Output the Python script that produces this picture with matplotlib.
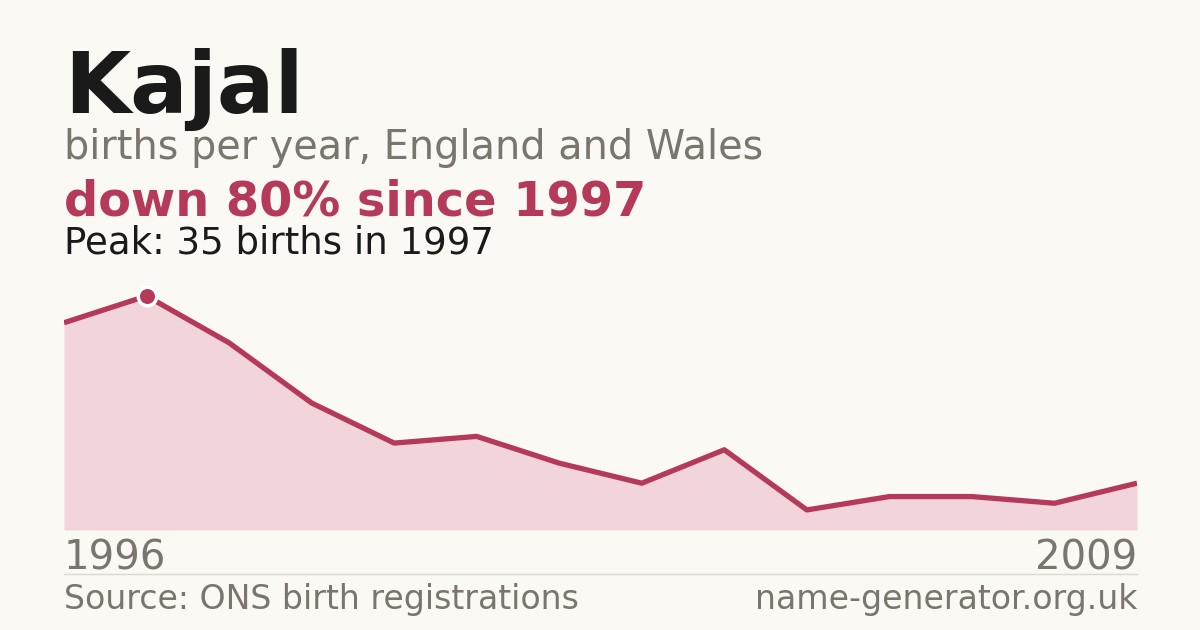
import matplotlib
matplotlib.use("Agg")
import matplotlib.pyplot as plt

plt.rcParams["font.family"] = ["DejaVu Sans"]

years = [1996, 1997, 1998, 1999, 2000, 2001, 2002, 2003, 2004, 2005, 2006, 2007, 2008, 2009]
births = [31, 35, 28, 19, 13, 14, 10, 7, 12, 3, 5, 5, 4, 7]

name = "Kajal"
subtitle = "births per year, England and Wales"
headline = "down 80% since 1997"
peak_note = "Peak: 35 births in 1997"
source = "Source: ONS birth registrations"
site = "name-generator.org.uk"

W, H = 1200, 630
bg = "#faf9f4"
red = "#b53958"
fill = "#f2d5db"
grey = "#7a756d"
dark = "#1a1a1a"

fig = plt.figure(figsize=(12, 6.3), dpi=100, facecolor=bg)

def px(x, y):
    return x / W, 1 - y / H

# plot area: x 64..1137, bottom 530, 35 births at y=296
top = 530 - 234 * 1.1
ax = fig.add_axes([64 / W, 1 - 530 / H, (1137 - 64) / W, (530 - top) / H])
ax.set_facecolor(bg)
ax.fill_between(years, births, 0, color=fill, lw=0)
ax.plot(years, births, color=red, lw=3.8, solid_capstyle="butt", solid_joinstyle="round")
pk = births.index(max(births))
ax.plot(years[pk], births[pk], "o", ms=13.3, mfc=red, mec="white", mew=2.5, clip_on=False, zorder=5)
ax.set_xlim(years[0], years[-1])
ax.set_ylim(0, max(births) * 1.1)
ax.axis("off")

fig.text(*px(64, 113), name, fontsize=61.5, fontweight="bold", color=dark, va="baseline")
fig.text(*px(64, 159), subtitle, fontsize=28.6, color=grey, va="baseline")
fig.text(*px(64, 215), headline, fontsize=34.5, fontweight="bold", color=red, va="baseline")
fig.text(*px(64, 253), peak_note, fontsize=26.7, color=dark, va="baseline")

fig.text(*px(64, 570), str(years[0]), fontsize=29, color=grey, va="baseline")
fig.text(*px(1137, 570), str(years[-1]), fontsize=29, color=grey, va="baseline", ha="right")

fig.add_artist(plt.Line2D([64 / W, 1137 / W], [1 - 574 / H] * 2, color="#dcd8d0", lw=1))

fig.text(*px(64, 609), source, fontsize=23.9, color=grey, va="baseline")
fig.text(*px(1137, 609), site, fontsize=23.9, color=grey, va="baseline", ha="right")

fig.savefig("out.png", dpi=100, facecolor=bg)
